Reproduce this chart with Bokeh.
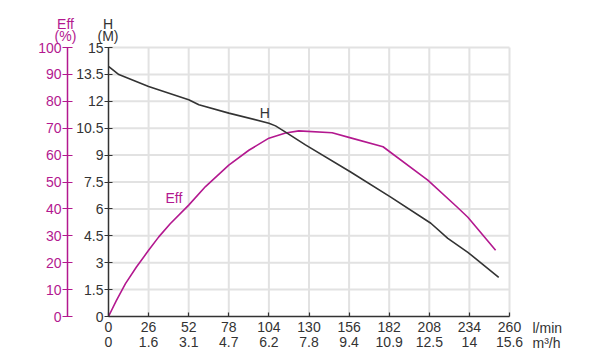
from bokeh.plotting import figure
from bokeh.models import Range1d, LinearAxis, FixedTicker, Label, NumeralTickFormatter
from bokeh.embed import file_html
from bokeh.resources import INLINE

# ---- data ----
flow_ticks = [0, 26, 52, 78, 104, 130, 156, 182, 208, 234, 260]          # l/min
m3h_labels = ["0", "1.6", "3.1", "4.7", "6.2", "7.8", "9.4", "10.9", "12.5", "14", "15.6"]
h_ticks = [0, 1.5, 3, 4.5, 6, 7.5, 9, 10.5, 12, 13.5, 15]
eff_ticks = [0, 10, 20, 30, 40, 50, 60, 70, 80, 90, 100]

h_flow = [0, 6.7, 26, 52, 58.6, 78, 104, 108.3, 114.8, 127.7, 157, 183, 209, 220, 233, 253]
h_head = [13.95, 13.49, 12.83, 12.09, 11.81, 11.34, 10.78, 10.63, 10.28, 9.57, 8.06, 6.66, 5.2, 4.36, 3.58, 2.18]

eff_flow = [0, 5, 11, 18, 26, 32.6, 40, 52, 62.9, 78, 91, 104, 114.8, 123.4, 145, 157, 178, 207, 226, 233, 251]
eff_pct = [0, 5.8, 12.2, 18.3, 24.6, 29.6, 34.5, 41.4, 48.3, 56.3, 61.8, 66.3, 68.2, 69.0, 68.3, 66.4, 63.1, 50.7, 40.7, 36.9, 24.6]

MAG = "#B3188F"
DARK = "#333333"
GRID = "#e2e2e2"
FONT = "Liberation Sans"
FS = "14px"

# plot area in pixels: x 0..260 -> 108..509, H 0..15 -> 316..47 (frame = whole canvas)
W, H = 590, 360
L, R, T, B = 108, 509, 47, 316
sx = 260 / (R - L)
sy = 15 / (B - T)
se = 100 / (B - T)

p = figure(width=W, height=H, output_backend="svg", toolbar_location=None,
           x_range=Range1d(-L * sx, (W - L) * sx),
           y_range=Range1d(-(H - B) * sy, 15 + T * sy),
           min_border=0)
p.outline_line_color = None
p.extra_y_ranges = {"eff": Range1d(-(H - B) * se, 100 + T * se)}
p.xgrid.visible = False
p.ygrid.visible = False

# grid lines limited to the chart box
p.segment(x0=flow_ticks[1:], x1=flow_ticks[1:], y0=0, y1=15, line_color=GRID, line_width=2)
p.segment(x0=0, x1=260, y0=h_ticks[1:], y1=h_ticks[1:], line_color=GRID, line_width=2)

def style_axis(a, color, tin, tout, standoff):
    a.axis_line_color = color
    a.axis_line_width = 1.5
    a.major_tick_line_color = color
    a.major_tick_line_width = 1.2
    a.major_tick_in = tin
    a.major_tick_out = tout
    a.minor_tick_line_color = None
    a.major_label_standoff = standoff
    a.major_label_text_font = FONT
    a.major_label_text_font_size = FS
    a.major_label_text_color = color

# H axis
ha = p.yaxis[0]
ha.ticker = FixedTicker(ticks=h_ticks)
ha.formatter = NumeralTickFormatter(format="0.[0]")
ha.fixed_location = 0
ha.bounds = (0, 15)
style_axis(ha, DARK, 4, 4, 1)

# Eff axis
ea = LinearAxis(y_range_name="eff", ticker=FixedTicker(ticks=eff_ticks),
                fixed_location=(67 - L) * sx, bounds=(0, 100))
style_axis(ea, MAG, 5, 5, 1)
p.add_layout(ea, "left")

# bottom axes
xa = p.xaxis[0]
xa.ticker = FixedTicker(ticks=flow_ticks)
xa.fixed_location = 0
xa.bounds = (0, 260)
style_axis(xa, DARK, 4, 0, 5)

xb = LinearAxis(ticker=FixedTicker(ticks=flow_ticks), fixed_location=0, bounds=(0, 260),
                major_label_overrides={t: l for t, l in zip(flow_ticks, m3h_labels)})
style_axis(xb, DARK, 0, 0, 20)
xb.axis_line_color = None
xb.major_tick_line_color = None
p.add_layout(xb, "below")

# curves
p.line(eff_flow, eff_pct, y_range_name="eff", line_color=MAG, line_width=1.6)
p.line(h_flow, h_head, line_color=DARK, line_width=1.6)

def lab(x, y, t, color, align="center"):
    p.add_layout(Label(x=x, y=y, text=t, text_color=color, text_font=FONT,
                       text_font_size=FS, text_align=align, text_baseline="middle"))

lab(101.3, 11.34, "H", DARK)
lab(42.4, 6.6, "Eff", MAG)
lab((65 - L) * sx, (B - 23) * sy, "Eff", MAG)
lab((65 - L) * sx, (B - 35) * sy, "(%)", MAG)
lab((107.5 - L) * sx, (B - 23) * sy, "H", DARK)
lab((107.5 - L) * sx, (B - 35) * sy, "(M)", DARK)
lab((532 - L) * sx, (B - 327) * sy, "l/min", DARK, "left")
lab((532 - L) * sx, (B - 342) * sy, "m\u00b3/h", DARK, "left")

open("out.html", "w").write(file_html(p, INLINE))
